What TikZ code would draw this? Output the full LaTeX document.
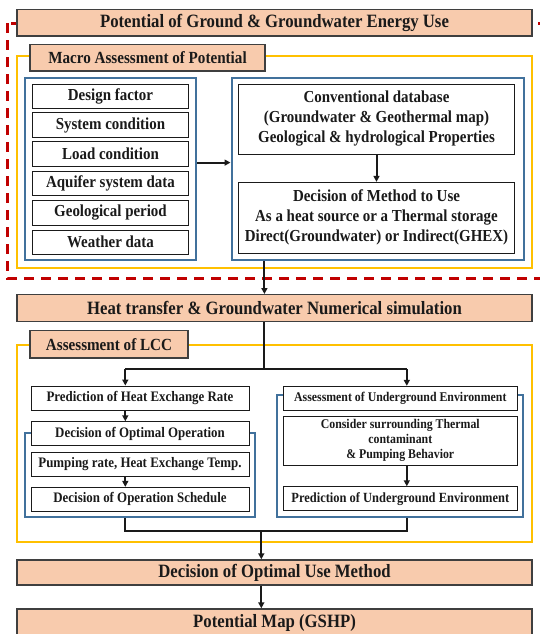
\documentclass[tikz,border=0pt]{standalone}
\usepackage{fontspec}
\setmainfont[FakeStretch=0.89]{Liberation Serif}
\usetikzlibrary{arrows.meta}
\definecolor{ink}{HTML}{1A1A1A}
\definecolor{frame}{HTML}{3F3F3F}
\definecolor{salmon}{HTML}{F8CBAD}
\definecolor{steel}{HTML}{41719C}
\definecolor{gold}{HTML}{FFC000}
\definecolor{crimson}{HTML}{C00000}

\begin{document}
\begin{tikzpicture}[
    x=1pt, y=-1pt, line width=2pt, >={Triangle[length=6pt,width=6pt]},
    color=ink,
    head/.style={draw=frame, fill=salmon, line width=1.4pt, inner sep=0pt, text=ink,
      font=\fontsize{18.8}{21}\selectfont\bfseries},
    tag/.style={head, font=\fontsize{17}{19}\selectfont\bfseries},
    item/.style={draw=ink, fill=white, line width=0.9pt, inner sep=0pt, align=center, text=ink,
      font=\fontsize{16.8}{20}\selectfont\bfseries},
    litem/.style={item, font=\fontsize{14.5}{16}\selectfont\bfseries},
    ritem/.style={item, font=\fontsize{13.3}{15}\selectfont\bfseries},
    group/.style={draw=steel, line width=2pt, inner sep=0pt},
    zone/.style={draw=gold, line width=2pt}]
  % fixed canvas, one unit = one pixel of the sketch
  \path[use as bounding box] (0,0) rectangle (539,634);

  % ================= 1) macro assessment of potential =================
  \draw[crimson, line width=3pt, dash pattern=on 10pt off 7pt] (7.5,23.3) rectangle (541,278.5);
  \node[head, minimum width=515pt, minimum height=26.7pt] (potential) at (274.5,22.7)
    {Potential of Ground \& Groundwater Energy Use};
  \draw[zone] (17,55.7) rectangle (532,268.3);
  \node[tag, minimum width=235pt, minimum height=26.7pt] (macro) at (147.5,57.7)
    {Macro Assessment of Potential};
  \node[group, minimum width=171pt, minimum height=181.7pt] (inputs) at (110.5,169.2) {};
  \node[group, minimum width=292pt, minimum height=181.7pt] (sources) at (377.5,169.2) {};
  % input data, one box per line
  \foreach \name/\y/\txt in {design/96.2/Design factor, system/125/System condition,
      load/154/Load condition, aquifer/183.7/Aquifer system data,
      geoperiod/212.9/Geological period, weather/242.2/Weather data} {
    \node[item, minimum width=156pt, minimum height=24.3pt] (\name) at (110.5,\y) {\txt};
  }
  \node[item, minimum width=276pt, minimum height=70pt] (conv) at (376.5,119)
    {Conventional database\\(Groundwater \& Geothermal map)\\Geological \& hydrological Properties};
  \node[item, minimum width=276pt, minimum height=71pt] (method) at (376.5,217.8)
    {Decision of Method to Use\\As a heat source or a Thermal storage\\Direct(Groundwater) or Indirect(GHEX)};
  \draw[->] ([yshift=6.6pt]inputs.east) -- ([yshift=6.6pt]sources.west);
  \draw[->] (conv) -- (method);

  % ================= 2) numerical simulation =================
  \node[head, minimum width=515pt, minimum height=27pt] (heat) at (274.5,308.2)
    {Heat transfer \& Groundwater Numerical simulation};
  \coordinate (split) at (264.4,369);
  \draw[->] (sources.south -| split) -- (heat.north -| split);

  % ================= 3) assessment of LCC =================
  \draw[zone] (17,345.3) rectangle (532,541.7);
  \node[tag, minimum width=158pt, minimum height=27.3pt] (lcc) at (109,344.4) {Assessment of LCC};
  \node[group, minimum width=230pt, minimum height=83.7pt] (operation) at (140,475.2) {};
  \node[group, minimum width=246pt, minimum height=122pt] (environment) at (400,456) {};
  % left branch: heat exchange
  \node[litem, minimum width=218pt, minimum height=24pt] (rate) at (140,398)
    {Prediction of Heat Exchange Rate};
  \node[litem, minimum width=218pt, minimum height=24pt] (optimal) at (140,433.7)
    {Decision of Optimal Operation};
  \node[litem, minimum width=218pt, minimum height=23.3pt] (pumping) at (140,464.4)
    {Pumping rate, Heat Exchange Temp.};
  \node[litem, minimum width=218pt, minimum height=23.7pt] (schedule) at (140,499.2)
    {Decision of Operation Schedule};
  % right branch: underground environment
  \node[ritem, minimum width=233.4pt, minimum height=24.4pt] (underground) at (400.3,398.5)
    {Assessment of Underground Environment};
  \node[ritem, minimum width=233.4pt, minimum height=49.3pt] (surround) at (400.3,440.7)
    {Consider surrounding Thermal\\contaminant\\\& Pumping Behavior};
  \node[ritem, minimum width=233.4pt, minimum height=24pt, font=\fontsize{14}{16}\selectfont\bfseries]
    (forecast) at (400.3,498.7) {Prediction of Underground Environment};
  \coordinate (splitL) at (125.3,369);
  \coordinate (splitR) at (406.8,369);
  \draw (heat.south -| split) -- (split);
  \draw (splitL) -- (splitR);
  \draw[->] (splitL) -- (splitL |- rate.north);
  \draw[->] (splitR) -- (splitR |- underground.north);
  \draw[->] (rate.south -| splitL) -- (optimal.north -| splitL);
  \draw[->] (pumping.south -| splitL) -- (schedule.north -| splitL);
  \draw[->] (surround.south -| splitR) -- (forecast.north -| splitR);

  % ================= 4) optimal use and map =================
  \node[head, minimum width=515pt, minimum height=25pt] (usemethod) at (274.5,572.5)
    {Decision of Optimal Use Method};
  \node[head, minimum width=515pt, minimum height=27pt] (map) at (274.5,622.5)
    {Potential Map (GSHP)};
  \coordinate (join) at (261.3,531);
  \draw (operation.south -| splitL) |- (join) -| (environment.south -| splitR);
  \draw[->] (join) -- (join |- usemethod.north);
  \draw[->] (usemethod.south -| join) -- (map.north -| join);
\end{tikzpicture}
\end{document}
